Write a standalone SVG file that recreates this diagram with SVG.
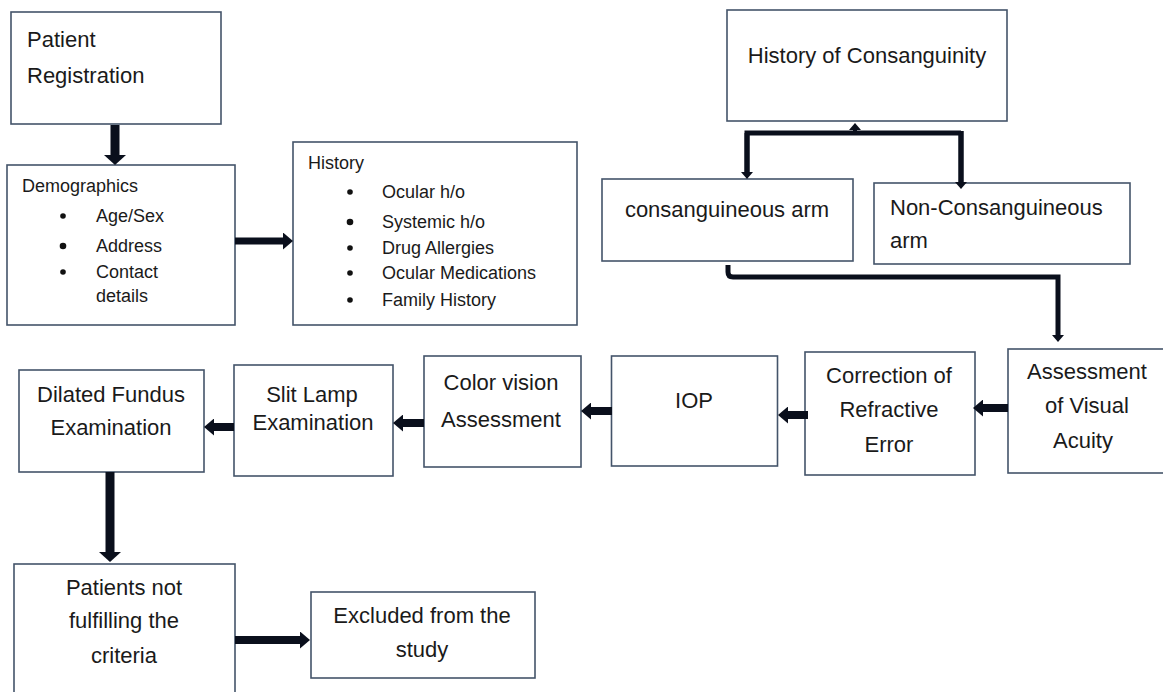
<svg xmlns="http://www.w3.org/2000/svg" width="1163" height="692" viewBox="0 0 1163 692">
<style>
.box{fill:#fff;stroke:#44546A;stroke-width:1.6}
.t{font-family:"Liberation Sans",Arial,sans-serif;font-size:22px;fill:#1a1a1a}
.s{font-family:"Liberation Sans",Arial,sans-serif;font-size:18px;fill:#1a1a1a}
.c{text-anchor:middle}
.b{fill:#111}
.ln{fill:none;stroke:#0a0f1c;stroke-linejoin:miter}
</style>
<defs>
<marker id="ahL" viewBox="0 0 10 10" refX="0" refY="5" markerUnits="userSpaceOnUse" markerWidth="10" markerHeight="22" orient="auto" preserveAspectRatio="none"><path d="M0,0 L10,5 L0,10 z" fill="#0a0f1c"/></marker>
<marker id="ahM" viewBox="0 0 10 10" refX="0" refY="5" markerUnits="userSpaceOnUse" markerWidth="10" markerHeight="17" orient="auto" preserveAspectRatio="none"><path d="M0,0 L10,5 L0,10 z" fill="#0a0f1c"/></marker>
<marker id="ahS" viewBox="0 0 10 10" refX="0" refY="5" markerUnits="userSpaceOnUse" markerWidth="7" markerHeight="12" orient="auto" preserveAspectRatio="none"><path d="M0,0 L10,5 L0,10 z" fill="#0a0f1c"/></marker>
</defs>
<rect width="1163" height="692" fill="#fff"/>

<g id="n-registration">
<rect class="box" x="11" y="12" width="210" height="112"/>
<text class="t" x="27" y="47">Patient</text>
<text class="t" x="27" y="83">Registration</text>
</g>

<g id="n-demographics">
<rect class="box" x="7" y="165" width="228" height="160"/>
<text class="s" x="22" y="192">Demographics</text>
<circle class="b" cx="63" cy="216" r="2.8"/>
<circle class="b" cx="63" cy="246" r="3.3"/>
<circle class="b" cx="63" cy="272" r="2.8"/>
<text class="s" x="96" y="222">Age/Sex</text>
<text class="s" x="96" y="252">Address</text>
<text class="s" x="96" y="278">Contact</text>
<text class="s" x="96" y="302">details</text>
</g>

<g id="n-history">
<rect class="box" x="293" y="142" width="284" height="183"/>
<text class="s" x="308" y="169">History</text>
<circle class="b" cx="350" cy="192" r="2.8"/>
<circle class="b" cx="350" cy="222" r="3.3"/>
<circle class="b" cx="350" cy="248" r="2.8"/>
<circle class="b" cx="350" cy="273" r="2.8"/>
<circle class="b" cx="350" cy="300" r="2.8"/>
<text class="s" x="382" y="198">Ocular h/o</text>
<text class="s" x="382" y="228">Systemic h/o</text>
<text class="s" x="382" y="254">Drug Allergies</text>
<text class="s" x="382" y="279">Ocular Medications</text>
<text class="s" x="382" y="306">Family History</text>
</g>

<g id="n-consanguinity">
<rect class="box" x="727" y="10" width="280" height="111"/>
<text class="t c" x="867" y="63">History of Consanguinity</text>
</g>

<g id="n-cons-arm">
<rect class="box" x="602" y="179" width="251" height="82"/>
<text class="t c" x="727" y="217">consanguineous arm</text>
</g>

<g id="n-noncons-arm">
<rect class="box" x="874" y="183" width="256" height="81"/>
<text class="t" x="890" y="215">Non-Consanguineous</text>
<text class="t" x="890" y="248">arm</text>
</g>

<g id="n-visual-acuity">
<rect class="box" x="1008" y="349" width="162" height="124"/>
<text class="t c" x="1087" y="379">Assessment</text>
<text class="t c" x="1087" y="413">of Visual</text>
<text class="t c" x="1083" y="448">Acuity</text>
</g>

<g id="n-refraction">
<rect class="box" x="805" y="352" width="170" height="123"/>
<text class="t c" x="889" y="383">Correction of</text>
<text class="t c" x="889" y="417">Refractive</text>
<text class="t c" x="889" y="452">Error</text>
</g>

<g id="n-iop">
<rect class="box" x="611.5" y="356" width="166" height="110"/>
<text class="t c" x="694" y="408">IOP</text>
</g>

<g id="n-color">
<rect class="box" x="424" y="356" width="157" height="111"/>
<text class="t c" x="501" y="390">Color vision</text>
<text class="t c" x="501" y="427">Assessment</text>
</g>

<g id="n-slitlamp">
<rect class="box" x="234" y="365" width="159" height="111"/>
<text class="t c" x="312" y="402">Slit Lamp</text>
<text class="t c" x="313" y="430">Examination</text>
</g>

<g id="n-fundus">
<rect class="box" x="19" y="370" width="185" height="102"/>
<text class="t c" x="111" y="402">Dilated Fundus</text>
<text class="t c" x="111" y="435">Examination</text>
</g>

<g id="n-not-fulfilling">
<rect class="box" x="14" y="564" width="221" height="140"/>
<text class="t c" x="124" y="595">Patients not</text>
<text class="t c" x="124" y="628">fulfilling the</text>
<text class="t c" x="124" y="663">criteria</text>
</g>

<g id="n-excluded">
<rect class="box" x="311" y="592" width="224" height="86"/>
<text class="t c" x="422" y="623">Excluded from the</text>
<text class="t c" x="422" y="657">study</text>
</g>

<g id="connectors">
<path class="ln" d="M115,125 V155" stroke-width="9" marker-end="url(#ahL)"/>
<path class="ln" d="M235,241 H283" stroke-width="7" marker-end="url(#ahM)"/>
<path class="ln" d="M855,135 V130" stroke-width="4" marker-end="url(#ahS)"/>
<path class="ln" d="M747,172 V133 H961" stroke-width="5"/>
<path class="ln" d="M747,133 V172" stroke-width="5" marker-end="url(#ahS)"/>
<path class="ln" d="M961,131 V182" stroke-width="5.5" marker-end="url(#ahS)"/>
<path class="ln" d="M728,265 V272 Q728,277 733,277 H1058 V335" stroke-width="5" marker-end="url(#ahS)"/>
<path class="ln" d="M1008,408 H983" stroke-width="8" marker-end="url(#ahM)"/>
<path class="ln" d="M808,415 H788" stroke-width="8" marker-end="url(#ahM)"/>
<path class="ln" d="M612,411 H591" stroke-width="8" marker-end="url(#ahM)"/>
<path class="ln" d="M424,423 H403" stroke-width="8" marker-end="url(#ahM)"/>
<path class="ln" d="M234,427 H214" stroke-width="8" marker-end="url(#ahM)"/>
<path class="ln" d="M110,472 V552" stroke-width="9" marker-end="url(#ahL)"/>
<path class="ln" d="M235,640 H300" stroke-width="8" marker-end="url(#ahM)"/>
</g>
</svg>
